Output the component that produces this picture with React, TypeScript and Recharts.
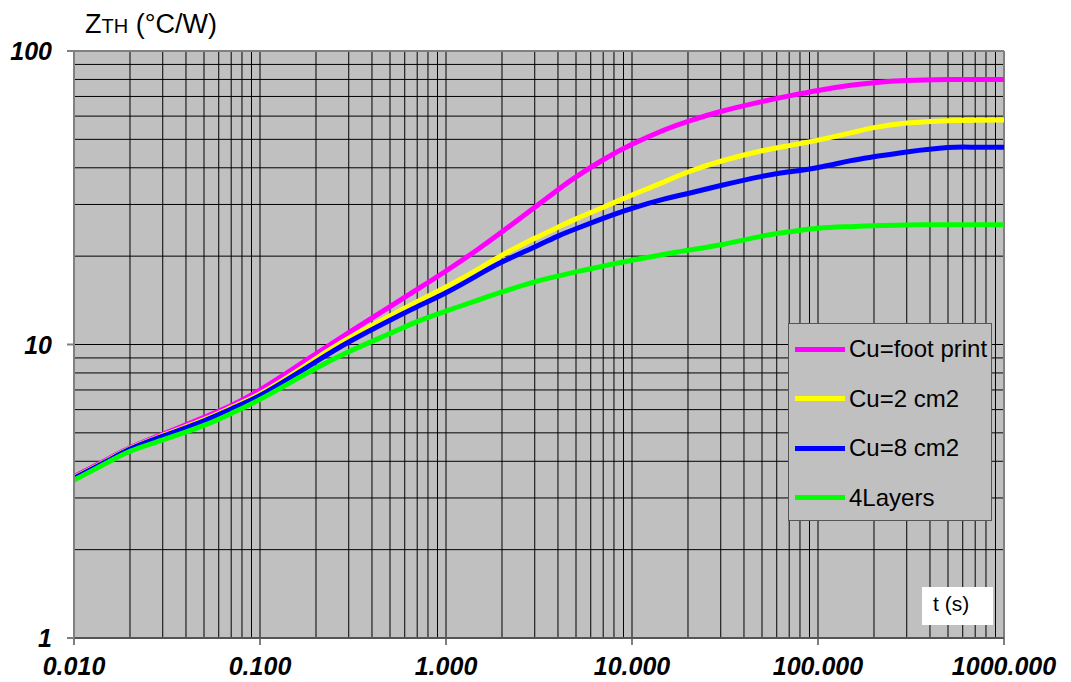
import React from 'react';
import { LineChart, Line, XAxis, YAxis, ReferenceLine, ReferenceArea, Legend } from 'recharts';

const times = [0.01, 0.015, 0.02, 0.03, 0.05, 0.07, 0.1, 0.15, 0.2, 0.3, 0.5, 0.7, 1, 1.5, 2, 3, 4, 5, 7, 10, 15, 20, 30, 50, 70, 100, 150, 200, 300, 500, 700, 1000];
const footPrint = [3.55, 4.05, 4.45, 4.95, 5.65, 6.2, 7.0, 8.25, 9.3, 10.98, 13.47, 15.41, 17.8, 21.2, 24.2, 29.35, 33.7, 37.25, 42.6, 48.1, 53.9, 57.6, 62.2, 67.2, 70.3, 73.4, 76.4, 77.95, 79.3, 79.9, 80.0, 80.0];
const cu2 = [3.52, 4.02, 4.42, 4.9, 5.55, 6.1, 6.8, 7.95, 8.96, 10.5, 12.5, 14.0, 15.7, 18.1, 20.15, 23.0, 25.1, 26.8, 29.35, 32.3, 35.9, 38.7, 42.1, 45.7, 47.6, 49.7, 52.6, 54.8, 56.8, 57.9, 58.1, 58.2];
const cu8 = [3.5, 4.0, 4.4, 4.87, 5.5, 6.03, 6.7, 7.8, 8.74, 10.2, 12.1, 13.45, 15.0, 17.3, 19.1, 21.5, 23.4, 24.8, 26.9, 29.1, 31.35, 32.7, 34.8, 37.4, 38.75, 40.1, 42.3, 43.6, 45.3, 46.9, 47.0, 47.0];
const layers4 = [3.45, 3.95, 4.33, 4.73, 5.3, 5.82, 6.5, 7.5, 8.3, 9.45, 10.9, 11.97, 13.0, 14.2, 15.1, 16.35, 17.1, 17.67, 18.5, 19.37, 20.3, 20.95, 21.86, 23.4, 24.2, 24.9, 25.2, 25.4, 25.55, 25.6, 25.6, 25.6];

const seriesNames = ['Cu=foot print', 'Cu=2 cm2', 'Cu=8 cm2', '4Layers'];
const seriesColors = ['#FF00FF', '#FFFF00', '#0000FF', '#00FF00'];
const seriesKeys = ['fp', 'c2', 'c8', 'l4'];

const xTicks = [0.01, 0.1, 1, 10, 100, 1000];
const xTickLabels = ['0.010', '0.100', '1.000', '10.000', '100.000', '1000.000'];
const yTicks = [1, 10, 100];
const yTickLabels = ['1', '10', '100'];
const gridMultipliers = [1, 2, 3, 4, 5, 6, 7, 8, 9];
const xDecades = [0.01, 0.1, 1, 10, 100];
const yDecades = [1, 10];

const data = times.map((t, i) => ({ t, fp: footPrint[i], c2: cu2[i], c8: cu8[i], l4: layers4[i] }));

const xGrid: number[] = [];
xDecades.forEach((d) => gridMultipliers.forEach((m) => xGrid.push(parseFloat((d * m).toPrecision(6)))));
const yGrid: number[] = [];
yDecades.forEach((d) => gridMultipliers.forEach((m) => yGrid.push(parseFloat((d * m).toPrecision(6)))));

const FONT = '"Liberation Sans", Arial, sans-serif';

const XTick = (props: any) => {
  const { x, y, payload } = props;
  const idx = xTicks.indexOf(payload.value);
  return (
    <text x={x} y={y + 30} textAnchor="middle" fontFamily={FONT} fontSize={25} fontWeight="bold" fontStyle="italic" fill="#000">
      {idx >= 0 ? xTickLabels[idx] : payload.value}
    </text>
  );
};

const YTick = (props: any) => {
  const { x, y, payload } = props;
  const idx = yTicks.indexOf(payload.value);
  return (
    <text x={x - 15} y={y + 9} textAnchor="end" fontFamily={FONT} fontSize={25} fontWeight="bold" fontStyle="italic" fill="#000">
      {idx >= 0 ? yTickLabels[idx] : payload.value}
    </text>
  );
};

const LegendBox = () => (
  <div style={{ position: 'relative', width: 204, height: 198, boxSizing: 'border-box', border: '1px solid #555', background: '#C0C0C0', fontFamily: FONT }}>
    {seriesNames.map((name, i) => (
      <div key={name} style={{ position: 'absolute', left: 0, top: 25 + i * 49.5 - 15, height: 30, display: 'flex', alignItems: 'center' }}>
        <div style={{ marginLeft: 6, width: 50, height: 5, background: seriesColors[i] }} />
        <span style={{ marginLeft: 4, fontSize: 24, color: '#000', lineHeight: '30px', whiteSpace: 'nowrap' }}>{name}</span>
      </div>
    ))}
  </div>
);

export default function App() {
  return (
    <div style={{ position: 'relative', width: 1063, height: 674 }}>
      <LineChart width={1063} height={674} data={data} margin={{ top: 43, right: 67, bottom: 0, left: 0 }}>
        <XAxis
          dataKey="t"
          type="number"
          scale="log"
          domain={[0.01, 1000]}
          allowDataOverflow
          ticks={xTicks}
          interval={0}
          height={44}
          tickSize={7}
          tickMargin={0}
          tick={<XTick />}
          axisLine={{ stroke: '#555', strokeWidth: 2 }}
          tickLine={{ stroke: '#555', strokeWidth: 1.5 }}
        />
        <YAxis
          type="number"
          scale="log"
          domain={[1, 100]}
          allowDataOverflow
          ticks={yTicks}
          interval={0}
          width={66}
          tickSize={7}
          tickMargin={0}
          tick={<YTick />}
          axisLine={{ stroke: '#808080', strokeWidth: 2 }}
          tickLine={{ stroke: '#808080', strokeWidth: 2 }}
        />
        <ReferenceArea x1={0.01} x2={1000} y1={1} y2={100} fill="#C0C0C0" fillOpacity={1} stroke="none" />
        {xGrid.map((v) => (
          <ReferenceLine key={'x' + v} x={v} stroke="#000" strokeWidth={1} />
        ))}
        {yGrid.map((v) => (
          <ReferenceLine key={'y' + v} y={v} stroke="#000" strokeWidth={1} />
        ))}
        <ReferenceLine x={1000} stroke="#808080" strokeWidth={2} />
        <ReferenceLine y={100} stroke="#808080" strokeWidth={2} />
        {seriesKeys.map((k, i) => (
          <Line key={k} dataKey={k} name={seriesNames[i]} type="natural" stroke={seriesColors[i]} strokeWidth={5} dot={false} activeDot={false} isAnimationActive={false} />
        ))}
        <Legend layout="vertical" align="center" verticalAlign="middle" content={<LegendBox />} wrapperStyle={{ left: 780, top: 315, width: 204, height: 198 }} />
      </LineChart>
      <svg width={1063} height={674} style={{ position: 'absolute', left: 0, top: 0, pointerEvents: 'none' }}>
        <text x={77} y={25} fontFamily={FONT} fontSize={27} fill="#000">
          Z<tspan fontSize={20}>TH</tspan> (°C/W)
        </text>
        <rect x={914} y={579} width={71} height={38} fill="#FFFFFF" />
        <text x={925} y={602.5} fontFamily={FONT} fontSize={21} fill="#000">t (s)</text>
      </svg>
    </div>
  );
}
